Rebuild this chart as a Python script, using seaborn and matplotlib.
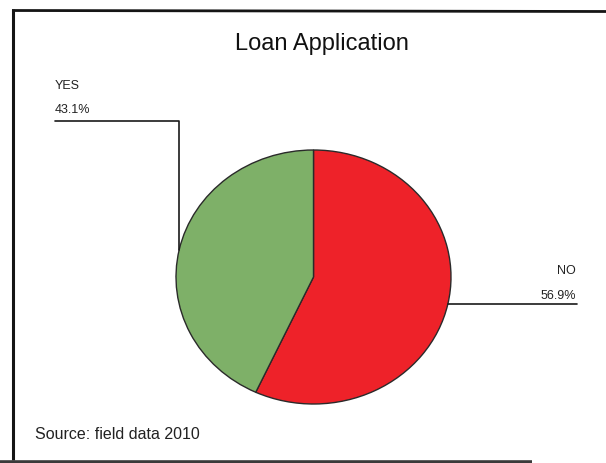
import numpy as np
import matplotlib
matplotlib.use("Agg")
import matplotlib.pyplot as plt
from matplotlib.lines import Line2D
import seaborn as sns

# Survey answers for the loan application question
categories = ["NO", "YES"]
shares = [56.9, 43.1]
slice_colors = ["#EE2229", "#7EB068"]
title_text = "Loan Application"
source_text = "Source: field data 2010"

sns.set_theme(style="white")
plt.rcParams["font.family"] = ["Liberation Sans", "DejaVu Sans"]

W, H = 606, 464
fig = plt.figure(figsize=(W / 100, H / 100), dpi=100)
fig.patch.set_facecolor("white")


def fx(px):
    return px / W


def fy(py):
    return 1 - py / H


# Pie axes spans the ellipse bounding box; aspect left free so the pie is oval
left, right, top, bottom = 176, 451, 151, 405
ax = fig.add_axes([fx(left), fy(bottom), (right - left) / W, (bottom - top) / H])
wedges, _ = ax.pie(
    shares,
    colors=slice_colors,
    startangle=90,
    counterclock=False,
    radius=1.0,
    wedgeprops=dict(edgecolor="#2a2a2a", linewidth=1.0),
)
ax.set_aspect("auto")
ax.set_xlim(-1, 1)
ax.set_ylim(-1, 1)
ax.axis("off")

# Convert figure pixels to the pie's data units for leader lines
cx, cy = (left + right) / 2, (top + bottom) / 2
rx, ry = (right - left) / 2, (bottom - top) / 2


def dx(px):
    return (px - cx) / rx


def dy(py):
    return (cy - py) / ry


def mid_point(w):
    ang = np.deg2rad((w.theta1 + w.theta2) / 2)
    return np.cos(ang), np.sin(ang)


line_kw = dict(color="#1a1a1a", linewidth=1.2, clip_on=False)
label_kw = dict(fontsize=9, color="#222222", transform=fig.transFigure)

# NO label: horizontal leader to the right
w_no = wedges[0]
x0, y0 = mid_point(w_no)
ax.plot([x0, dx(577)], [y0, y0], **line_kw)
fig.text(fx(576), fy(271), categories[0], ha="right", va="center", **label_kw)
fig.text(fx(576), fy(296), f"{shares[0]:.1f}%", ha="right", va="center", **label_kw)

# YES label: leader up then left
w_yes = wedges[1]
x1, y1 = mid_point(w_yes)
ax.plot([x1, x1, dx(55)], [y1, dy(122), dy(122)], **line_kw)
fig.text(fx(55), fy(86), categories[1], ha="left", va="center", **label_kw)
fig.text(fx(55), fy(110), f"{shares[1]:.1f}%", ha="left", va="center", **label_kw)

# Title and source note
fig.text(fx(322), fy(44), title_text, ha="center", va="center",
         fontsize=17, color="#111111")
fig.text(fx(35), fy(435), source_text, ha="left", va="center",
         fontsize=11.5, color="#222222")

# Chart frame
frame_kw = dict(transform=fig.transFigure, color="#151515", solid_capstyle="butt")
fig.add_artist(Line2D([fx(12), fx(606)], [fy(11.5), fy(12.5)], linewidth=2.0, **frame_kw))
fig.add_artist(Line2D([fx(13), fx(13)], [fy(10), fy(461)], linewidth=2.2, **frame_kw))
fig.add_artist(Line2D([fx(0), fx(532)], [fy(462.5), fy(462.5)], linewidth=2.6,
                      transform=fig.transFigure, color="#3a3a3a", solid_capstyle="butt"))

fig.savefig("out.png", dpi=100, facecolor="white")
